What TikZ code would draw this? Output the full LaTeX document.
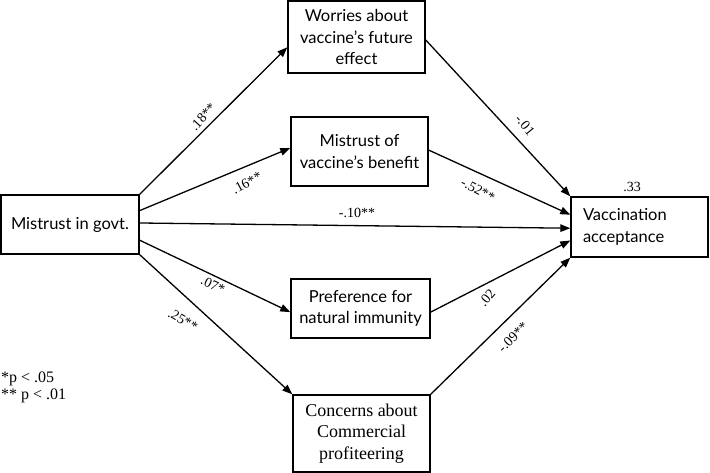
\documentclass[tikz,border=0pt]{standalone}
\usepackage{fontspec}
\setmainfont{Liberation Serif}
\newfontfamily\gill{Lato}
\usetikzlibrary{arrows.meta,calc}
\begin{document}
\begin{tikzpicture}[x=1pt,y=-1pt,
  box/.style={draw,line width=1.4pt,inner sep=0pt,align=center,font=\gill\fontsize{16.5}{21.5}\selectfont},
  link/.style={line width=1.3pt,-{Triangle[length=10pt,width=7.5pt]}},
  coef/.style={font=\fontsize{14}{15}\selectfont,inner sep=0pt},
  legend/.style={font=\fontsize{16}{17}\selectfont,inner sep=0pt,anchor=west}]
\useasboundingbox (0,0) rectangle (710,473);
% boxes
\node[box,minimum width=138pt,minimum height=59pt] (gov) at (70,224.5) {Mistrust in govt.};
\node[box,minimum width=137pt,minimum height=72pt] (wor) at (356.5,37) {Worries about\\vaccine’s future\\effect};
\node[box,minimum width=137pt,minimum height=69pt] (ben) at (359.5,151.5) {Mistrust of\\vaccine’s benefit};
\node[box,minimum width=139pt,minimum height=59pt] (pre) at (360.5,308.5) {Preference for\\natural immunity};
\node[box,minimum width=137pt,minimum height=77pt,font=\fontsize{18}{21.5}\selectfont] (con) at (361.5,433.5) {Concerns about\\Commercial\\profiteering};
\node[box,text width=113pt,inner xsep=12pt,align=left,minimum height=60pt] (vac) at (639.5,227) {Vaccination\\acceptance};
% connectors
\draw[link] (gov.north east) -- ($(wor.north west)!0.64!(wor.south west)$);
\draw[link] ($(gov.north east)!0.27!(gov.south east)$) -- ($(ben.north west)!0.45!(ben.south west)$);
\draw[link] ($(gov.north east)!0.475!(gov.south east)$) -- ($(vac.north west)!0.52!(vac.south west)$);
\draw[link] ($(gov.north east)!0.76!(gov.south east)$) -- ($(pre.north west)!0.56!(pre.south west)$);
\draw[link] (gov.south east) -- (con.north west);
\draw[link] ($(wor.north east)!0.54!(wor.south east)$) -- (vac.north west);
\draw[link] ($(ben.north east)!0.48!(ben.south east)$) -- ($(vac.north west)!0.3!(vac.south west)$);
\draw[link] ($(pre.north east)!0.56!(pre.south east)$) -- ($(vac.north west)!0.72!(vac.south west)$);
\draw[link] (con.north east) -- (vac.south west);
% coefficients
\node[coef,rotate=48] (c1) at (203,117) {.18**};
\node[coef,rotate=28] (c2) at (247,183) {.16**};
\node[coef] (c3) at (357,213) {-.10**};
\node[coef,rotate=-25] (c4) at (213,285) {.07*};
\node[coef,rotate=-30] (c5) at (183,320) {.25**};
\node[coef,rotate=-51] (c6) at (525,125) {-.01};
\node[coef,rotate=-28] (c7) at (478,190) {-.52**};
\node[coef,rotate=50] (c8) at (487,298) {.02};
\node[coef,rotate=45] (c9) at (513,337) {-.09**};
\node[coef] (r2) at (632,187) {.33};
% legend
\node[legend] (l1) at (1,379) {*p < .05};
\node[legend] (l2) at (1,396) {** p < .01};
\end{tikzpicture}
\end{document}
